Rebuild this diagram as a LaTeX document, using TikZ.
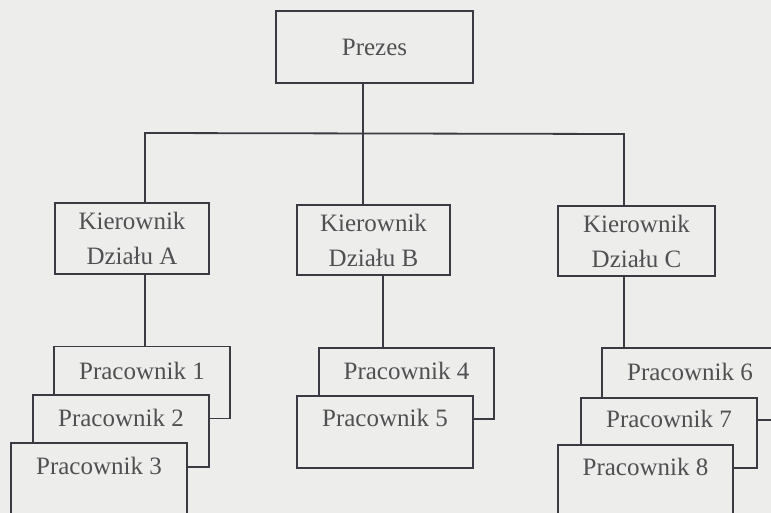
\documentclass[tikz,border=0pt]{standalone}
\usepackage{fontspec}
\setmainfont{Liberation Serif}
\definecolor{paper}{HTML}{EDEDEB}
\definecolor{ink}{HTML}{3A3A42}
\definecolor{type}{HTML}{505052}
\begin{document}
\begin{tikzpicture}[x=1pt,y=-1pt,
  box/.style={draw=ink, line width=1.8pt, fill=paper, rectangle, inner sep=0pt},
  lbl/.style={text=type, font=\fontsize{25}{35}\selectfont, align=center, inner sep=0pt},
  link/.style={draw=ink, line width=1.8pt},
  worker/.style={box, minimum width=176pt, minimum height=72pt}]
% page area
\clip (0,0) rectangle (771,513);
\fill[paper] (0,0) rectangle (771,513);

% top level
\node[box, lbl, minimum width=197pt, minimum height=72pt] (prezes) at (374.5,47) {Prezes};

% department heads
\node[box, lbl, minimum width=154pt, minimum height=71pt] (ka) at (132,238.5) {Kierownik\\Działu A};
\node[box, lbl, minimum width=153pt, minimum height=70pt] (kb) at (373.5,240) {Kierownik\\Działu B};
\node[box, lbl, minimum width=157pt, minimum height=70pt] (kc) at (636.5,241) {Kierownik\\Działu C};

% branching line
\coordinate (sa) at (145,133);
\coordinate (sb) at (363,133);
\coordinate (sc) at (624,134);
\draw[link] (sa |- ka.north) -- (sa) -- (sc) -- (sc |- kc.north);
\draw[link] (sb |- prezes.south) -- (sb |- kb.north);

% staff of department A
\node[worker] (p1) at (142,382.5) {};
\node[lbl] (p1t) at ([yshift=-25pt]p1.north) {Pracownik 1};
\node[worker] (p2) at (121,431) {};
\node[lbl] (p2t) at ([yshift=-24pt]p2.north) {Pracownik 2};
\node[worker, minimum height=80pt] (p3) at (99,483) {};
\node[lbl] (p3t) at ([yshift=-24pt]p3.north) {Pracownik 3};

% staff of department B
\node[worker, minimum width=175pt, minimum height=71pt] (p4) at (406.5,383.5) {};
\node[lbl] (p4t) at ([yshift=-24pt]p4.north) {Pracownik 4};
\node[worker] (p5) at (385,432) {};
\node[lbl] (p5t) at ([yshift=-23pt]p5.north) {Pracownik 5};

% staff of department C
\node[worker] (p6) at (690,384) {};
\node[lbl] (p6t) at ([yshift=-25pt]p6.north) {Pracownik 6};
\node[worker, minimum height=70pt] (p7) at (669,433) {};
\node[lbl] (p7t) at ([yshift=-22pt]p7.north) {Pracownik 7};
\node[worker, minimum width=175pt, minimum height=80pt] (p8) at (645.5,485) {};
\node[lbl] (p8t) at ([yshift=-23pt]p8.north) {Pracownik 8};

% links from heads to their staff
\draw[link] ([xshift=13pt]ka.south) -- ([xshift=13pt]ka.south |- p1.north);
\draw[link] ([xshift=9.5pt]kb.south) -- ([xshift=9.5pt]kb.south |- p4.north);
\draw[link] ([xshift=-12.5pt]kc.south) -- ([xshift=-12.5pt]kc.south |- p6.north);
\end{tikzpicture}
\end{document}
